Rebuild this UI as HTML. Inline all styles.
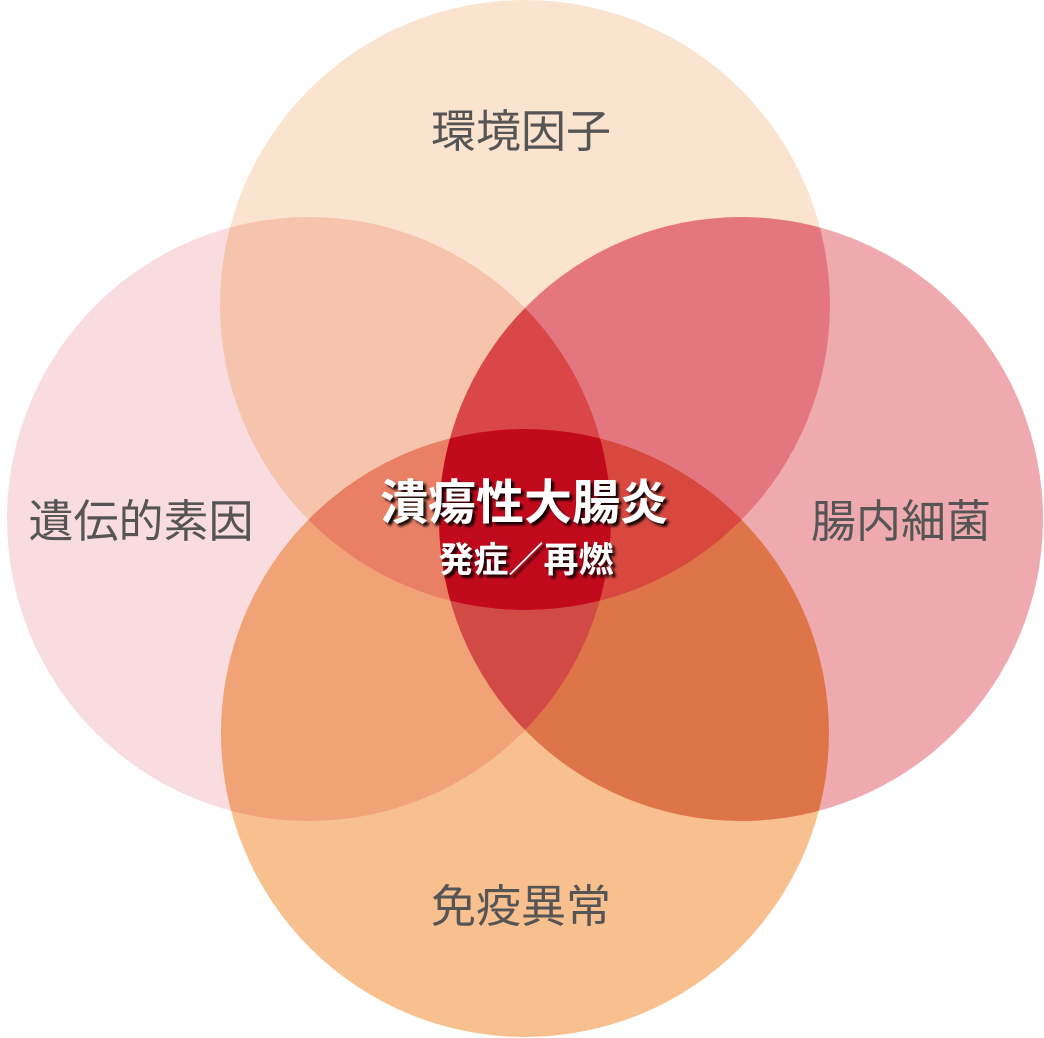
<!DOCTYPE html>
<html><head><meta charset="utf-8"><style>
html,body{margin:0;padding:0;background:#fff;}
svg{display:block;}
</style></head><body>
<svg width="1044" height="1038" viewBox="0 0 1044 1038" xmlns="http://www.w3.org/2000/svg">
<defs>
<clipPath id="cT"><circle cx="525" cy="305" r="305"/></clipPath>
<clipPath id="cL"><circle cx="309" cy="519" r="302"/></clipPath>
<clipPath id="cR"><circle cx="741" cy="519" r="302"/></clipPath>
<clipPath id="cB"><circle cx="525" cy="733" r="304"/></clipPath>
<filter id="sh" x="-10%" y="-30%" width="120%" height="160%"><feDropShadow dx="3" dy="3" stdDeviation="1.2" flood-color="#000" flood-opacity="0.9"/></filter>
</defs>
<circle cx="309" cy="519" r="302" fill="#F8DCDF"/>
<circle cx="741" cy="519" r="302" fill="#EFAAAF"/>
<circle cx="525" cy="305" r="305" fill="#FBE4CF"/>
<circle cx="525" cy="733" r="304" fill="#F8C08F"/>
<g clip-path="url(#cT)"><circle cx="309" cy="519" r="302" fill="#F6C4AC"/><circle cx="741" cy="519" r="302" fill="#E47680"/></g>
<g clip-path="url(#cB)"><circle cx="309" cy="519" r="302" fill="#F1A377"/><circle cx="741" cy="519" r="302" fill="#DE7548"/></g>
<g clip-path="url(#cT)"><g clip-path="url(#cL)"><circle cx="741" cy="519" r="302" fill="#D94749"/></g></g>
<g clip-path="url(#cB)"><g clip-path="url(#cL)"><circle cx="741" cy="519" r="302" fill="#D24A45"/></g></g>
<g clip-path="url(#cT)"><g clip-path="url(#cB)"><circle cx="309" cy="519" r="302" fill="#E98066"/><circle cx="741" cy="519" r="302" fill="#D9483F"/></g></g>
<g clip-path="url(#cT)"><g clip-path="url(#cB)"><g clip-path="url(#cL)"><circle cx="741" cy="519" r="302" fill="#C20A1D"/></g></g></g>
<g font-family="'Liberation Sans','Noto Sans CJK JP',sans-serif" fill="#555" font-size="45" text-anchor="middle">
<text x="521" y="147">環境因子</text>
<text x="141" y="537">遺伝的素因</text>
<text x="901" y="537">腸内細菌</text>
<text x="521" y="922">免疫異常</text>
</g>
<g font-family="'Liberation Sans','Noto Sans CJK JP',sans-serif" fill="#fff" font-weight="bold" text-anchor="middle" filter="url(#sh)">
<text x="524" y="519" font-size="48">潰瘍性大腸炎</text>
<text x="526" y="572" font-size="35">発症／再燃</text>
</g>
</svg>
</body></html>
